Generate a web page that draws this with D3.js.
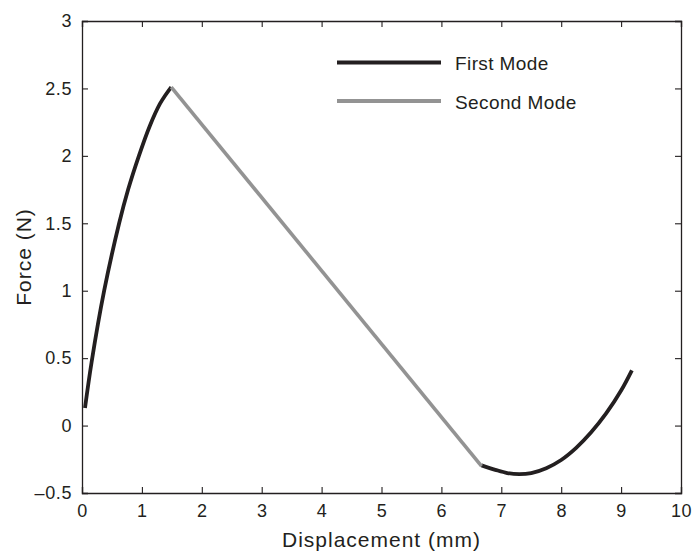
<!DOCTYPE html>
<html>
<head>
<meta charset="utf-8">
<script src="https://cdnjs.cloudflare.com/ajax/libs/d3/7.8.5/d3.min.js"></script>
<style>
  body { margin: 0; background: #fff; }
  text { font-family: "Liberation Sans", Arial, sans-serif; fill: #231f20; }
</style>
</head>
<body>
<div id="chart"></div>
<script>
"use strict"

// data
let riseX = [0.05, 0.16, 0.37, 0.62, 0.77, 0.95, 1.13, 1.30, 1.40, 1.49];
let riseY = [0.13, 0.47, 1.00, 1.50, 1.75, 2.00, 2.22, 2.385, 2.455, 2.51];

let secondX = [1.49, 6.67];
let secondY = [2.51, -0.30];

let tailX = [6.67, 6.90, 7.10, 7.30, 7.50, 7.75, 8.00, 8.25, 8.50, 8.75, 9.00, 9.18];
let tailY = [-0.295, -0.328, -0.352, -0.36, -0.352, -0.316, -0.255, -0.165, -0.05, 0.09, 0.26, 0.41];

let xTicks = [0, 1, 2, 3, 4, 5, 6, 7, 8, 9, 10];
let yTicks = [-0.5, 0, 0.5, 1, 1.5, 2, 2.5, 3];

let legendNames = ["First Mode", "Second Mode"];
let lineColors = ["#231f20", "#939393"];

let width = 692, height = 552;
let margin = {left: 82, right: 11, top: 21, bottom: 59};

let svg = d3.select("#chart").append("svg")
    .attr("width", width)
    .attr("height", height)

let x = d3.scaleLinear()
    .domain([0, 10])
    .range([margin.left, width - margin.right]);

let y = d3.scaleLinear()
    .domain([-0.5, 3])
    .range([height - margin.bottom, margin.top]);

function fmt(d){
    return d < 0 ? "\u2013" + Math.abs(d) : String(d);
}

let line = d3.line()
    .x(d => x(d[0]))
    .y(d => y(d[1]))
    .curve(d3.curveCatmullRom.alpha(0.5));

function zip(a, b){
    return a.map((v, i) => [v, b[i]]);
}

// curves
svg.append("path")
    .datum(zip(riseX, riseY))
    .attr("d", line)
    .attr("fill", "none")
    .attr("stroke", lineColors[0])
    .attr("stroke-width", 3.8)

svg.append("path")
    .datum(zip(tailX, tailY))
    .attr("d", line)
    .attr("fill", "none")
    .attr("stroke", lineColors[0])
    .attr("stroke-width", 3.8)

svg.append("path")
    .datum(zip(secondX, secondY))
    .attr("d", line)
    .attr("fill", "none")
    .attr("stroke", lineColors[1])
    .attr("stroke-width", 3.6)

// axes (ticks point inward, box on all sides)
let bottomAxis = svg.append("g")
    .attr("transform", "translate(0," + y(-0.5) + ")")
    .call(d3.axisBottom(x).tickValues(xTicks).tickSize(-6).tickPadding(11).tickFormat(fmt));

let leftAxis = svg.append("g")
    .attr("transform", "translate(" + x(0) + ",0)")
    .call(d3.axisLeft(y).tickValues(yTicks).tickSize(-6).tickPadding(10).tickFormat(fmt));

let topAxis = svg.append("g")
    .attr("transform", "translate(0," + y(3) + ")")
    .call(d3.axisTop(x).tickValues(xTicks).tickSize(-6).tickFormat(""));

let rightAxis = svg.append("g")
    .attr("transform", "translate(" + x(10) + ",0)")
    .call(d3.axisRight(y).tickValues(yTicks).tickSize(-6).tickFormat(""));

[bottomAxis, leftAxis, topAxis, rightAxis].forEach(function(g){
    g.select(".domain").attr("stroke", "#231f20").attr("stroke-width", 1.3);
    g.selectAll(".tick line").attr("stroke", "#231f20").attr("stroke-width", 1.1);
    g.selectAll("text")
        .style("font-size", "18px")
        .style("letter-spacing", "0.6px")
        .attr("fill", "#231f20");
});

// axis titles
svg.append("text")
    .attr("x", (x(0) + x(10)) / 2)
    .attr("y", 547)
    .attr("text-anchor", "middle")
    .style("font-size", "21px")
    .style("letter-spacing", "1px")
    .text("Displacement (mm)")

svg.append("text")
    .attr("transform", "translate(31," + y(1.25) + ") rotate(-90)")
    .attr("text-anchor", "middle")
    .style("font-size", "21px")
    .style("letter-spacing", "1px")
    .text("Force (N)")

// legend
for(let i = 0; i < legendNames.length; i++){
    let ly = 62.5 + 38.5 * i;
    svg.append("line")
        .attr("x1", 337)
        .attr("x2", 441)
        .attr("y1", ly)
        .attr("y2", ly)
        .attr("stroke", lineColors[i])
        .attr("stroke-width", 3.8)
    svg.append("text")
        .attr("x", 455)
        .attr("y", ly + 7.5)
        .style("font-size", "19px")
        .style("letter-spacing", "0.4px")
        .text(legendNames[i])
}
</script>
</body>
</html>
